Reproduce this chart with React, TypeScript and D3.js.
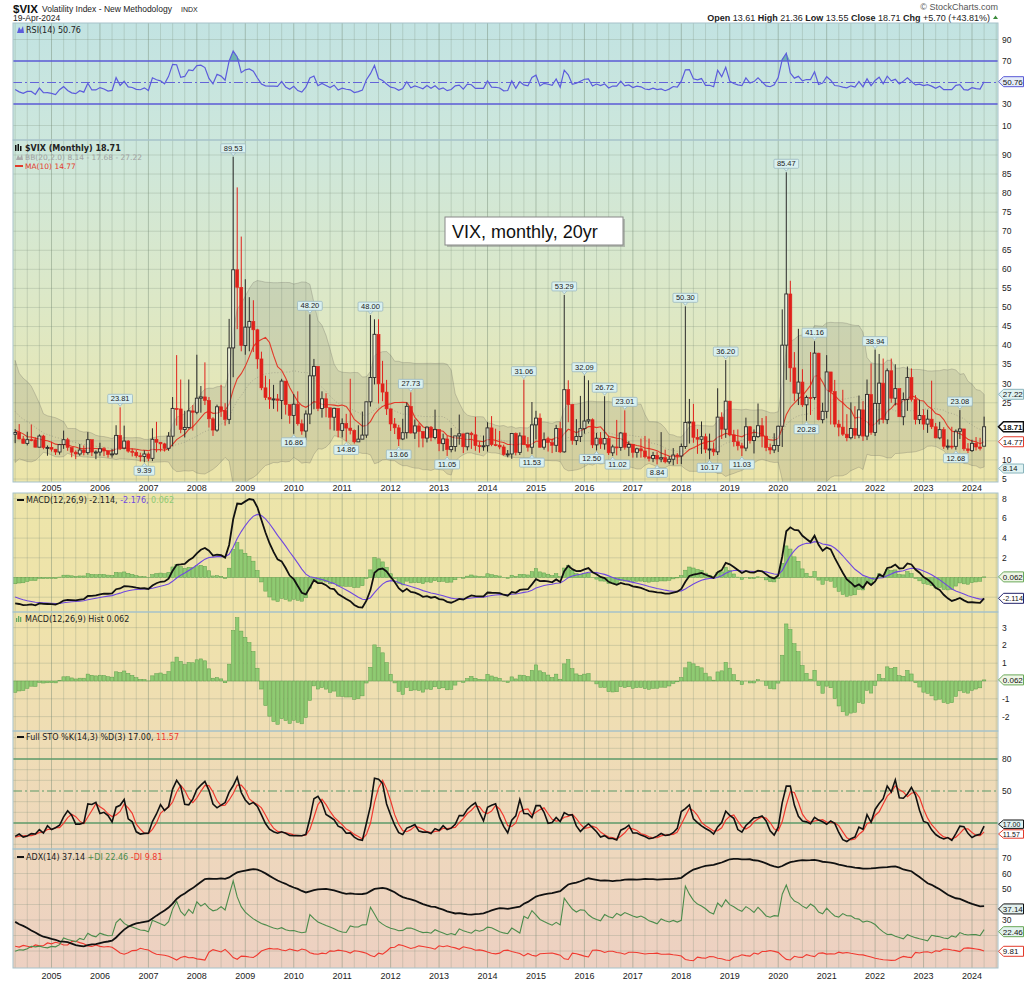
import React, { useEffect } from 'react';
import * as d3 from 'd3';

// Monthly VIX closes Jan 2000 .. Aug 2002 (only used to warm up RSI / MACD)
const priorCloses: number[] = [
  24.95, 23.37, 24.11, 26.20, 23.65, 19.74, 20.74, 17.61, 20.57, 25.04, 29.68, 26.85,
  23.72, 28.41, 31.93, 24.84, 21.62, 19.06, 23.37, 24.92, 31.93, 33.56, 23.84, 23.80,
  21.09, 21.59, 17.40, 21.91, 19.98, 25.40, 32.03, 32.64,
];

// Monthly VIX, Sep 2002 .. Apr 2024 (first 19 months are warm-up for indicators, chart starts Apr 2004)
const closes: number[] = [
  39.69, 31.14, 27.50, 28.62,
  31.17, 29.63, 29.15, 21.21, 19.47, 19.52, 19.49, 19.50, 22.72, 16.10, 16.32, 18.31,
  16.63, 14.55, 16.74, 17.19, 15.50, 14.34, 15.32, 15.29, 13.34, 16.27, 13.24, 13.29,
  12.82, 12.08, 14.02, 15.31, 13.29, 12.04, 11.57, 12.60, 11.92, 15.32, 12.06, 12.07,
  12.95, 12.34, 11.39, 11.59, 16.44, 13.08, 14.95, 12.31, 11.98, 11.10, 10.91, 11.56,
  10.42, 15.42, 14.64, 14.22, 13.05, 16.23, 23.52, 23.38, 18.00, 18.53, 22.87, 22.50,
  26.20, 26.54, 25.61, 20.79, 17.83, 23.95, 22.94, 20.65, 39.39, 59.89, 55.28, 40.00,
  44.84, 46.35, 44.14, 36.50, 28.92, 26.35, 25.92, 26.01, 25.61, 30.69, 24.51, 21.68,
  24.62, 19.50, 17.59, 22.05, 32.07, 34.54, 23.50, 26.05, 23.70, 21.20, 23.54, 17.75,
  19.53, 18.35, 17.74, 14.75, 15.45, 16.52, 25.25, 31.62, 42.96, 29.96, 27.80, 23.40,
  19.44, 18.43, 15.50, 17.15, 24.06, 17.08, 18.93, 17.47, 15.73, 18.60, 15.87, 18.02,
  14.28, 15.51, 12.70, 13.52, 16.30, 16.86, 13.45, 17.01, 16.60, 13.75, 13.70, 13.72,
  18.41, 14.00, 13.88, 13.41, 11.40, 11.57, 16.95, 11.98, 16.31, 14.03, 13.33, 19.20,
  20.97, 13.34, 15.29, 14.55, 13.84, 18.23, 12.12, 28.43, 24.50, 15.07, 16.13, 18.21,
  20.20, 20.55, 13.95, 15.70, 14.19, 15.63, 11.87, 13.42, 13.29, 17.06, 13.33, 14.04,
  11.99, 12.92, 12.37, 10.82, 10.41, 11.18, 10.26, 10.59, 9.51, 10.18, 11.28, 11.04,
  13.54, 19.85, 19.97, 15.93, 15.43, 16.09, 12.83, 12.86, 12.12, 21.23, 18.07, 25.42,
  16.57, 14.78, 13.71, 13.12, 18.71, 15.08, 16.12, 18.98, 16.24, 13.22, 12.62, 13.78,
  18.84, 40.11, 53.54, 34.15, 27.51, 30.43, 24.46, 26.41, 26.37, 38.02, 20.57, 22.75,
  33.09, 27.95, 19.40, 18.61, 16.76, 15.83, 18.24, 16.48, 23.14, 16.26, 27.19, 17.22,
  24.83, 30.15, 20.56, 33.40, 26.19, 28.71, 21.33, 25.87, 31.62, 25.88, 20.58, 21.67,
  19.40, 20.70, 18.70, 15.78, 17.94, 13.59, 13.63, 13.57, 17.52, 18.14, 12.92, 12.45,
  14.35, 13.40, 13.01, 18.71,
];

const highs: number[] = [
  45.1, 45.2, 33.8, 32.4,
  35.2, 36.6, 39.4, 30.0, 23.0, 23.1, 22.5, 23.2, 24.3, 22.8, 21.4, 19.6,
  18.3, 18.0, 21.6, 18.1, 19.4, 16.3, 17.4, 19.3, 15.9, 16.7, 16.6, 13.8,
  14.8, 12.9, 14.2, 17.7, 15.8, 12.9, 12.5, 14.2, 13.8, 17.3, 15.1, 12.5,
  14.5, 13.4, 12.4, 12.9, 19.1, 23.81, 19.0, 15.2, 13.0, 12.6, 11.9, 12.5,
  12.0, 18.3, 20.0, 14.7, 14.5, 17.3, 26.5, 37.5, 31.1, 22.9, 31.1, 24.4,
  37.6, 29.4, 35.6, 26.5, 21.2, 24.5, 29.7, 24.9, 47.0, 89.53, 81.5, 68.6,
  57.4, 52.7, 51.9, 44.4, 38.4, 32.1, 31.2, 29.7, 27.3, 31.3, 30.3, 24.5,
  27.3, 28.0, 20.6, 23.0, 48.20, 36.5, 34.3, 28.0, 27.5, 23.5, 23.7, 23.3,
  20.9, 22.1, 31.3, 18.0, 19.1, 22.7, 25.3, 48.00, 46.9, 46.9, 36.0, 31.0,
  23.5, 21.0, 19.2, 20.8, 25.1, 27.73, 20.6, 19.6, 17.6, 18.8, 18.9, 23.2,
  18.0, 16.9, 16.3, 18.4, 16.3, 21.9, 16.6, 17.1, 17.4, 21.3, 14.8, 16.4,
  19.9, 21.5, 18.2, 17.6, 14.0, 12.6, 17.0, 17.2, 17.2, 31.06, 16.0, 25.2,
  22.9, 22.2, 17.2, 16.1, 15.6, 19.2, 20.0, 53.29, 30.9, 24.7, 20.7, 26.8,
  32.09, 30.9, 20.9, 17.1, 17.3, 26.72, 16.4, 14.0, 20.5, 17.3, 23.01, 14.9,
  14.2, 13.2, 15.6, 16.3, 15.6, 12.1, 12.2, 17.3, 12.7, 11.0, 13.1, 11.8,
  14.3, 50.30, 26.0, 24.7, 18.1, 20.1, 16.9, 16.9, 14.6, 28.8, 22.5, 36.20,
  25.5, 17.9, 18.0, 14.5, 21.1, 18.9, 18.0, 24.8, 21.0, 21.5, 14.3, 17.0,
  19.0, 49.5, 85.47, 57.0, 38.3, 44.4, 33.8, 26.9, 38.3, 41.16, 38.1, 25.0,
  37.5, 31.2, 31.0, 20.5, 28.4, 22.0, 25.1, 24.1, 26.9, 25.4, 31.1, 35.3,
  38.94, 37.8, 36.6, 34.0, 36.6, 35.1, 28.6, 27.7, 34.5, 34.0, 27.0, 25.8,
  23.3, 23.2, 30.8, 19.7, 20.0, 18.6, 15.4, 18.7, 18.0, 23.08, 18.0, 14.4,
  15.3, 16.0, 15.8, 21.36,
];

const lows: number[] = [
  30.4, 28.9, 25.4, 24.5,
  24.0, 28.9, 26.7, 20.9, 18.8, 18.3, 18.6, 18.0, 17.9, 15.8, 15.6, 15.6,
  14.9, 14.3, 14.3, 14.4, 15.4, 14.2, 13.8, 14.9, 13.3, 13.7, 12.8, 11.1,
  12.2, 11.3, 11.4, 12.9, 12.4, 10.7, 10.2, 11.1, 11.2, 11.4, 11.0, 10.2,
  11.1, 11.0, 10.6, 10.6, 11.3, 12.6, 12.8, 11.9, 10.9, 10.6, 9.6, 9.39,
  9.7, 9.7, 12.0, 12.2, 12.2, 12.4, 13.6, 19.0, 17.0, 15.9, 18.2, 17.7,
  22.0, 22.4, 24.4, 18.5, 16.3, 17.4, 21.3, 19.0, 19.4, 31.7, 44.3, 38.5,
  37.6, 38.5, 38.3, 33.9, 28.3, 25.7, 23.4, 23.4, 22.7, 20.7, 21.9, 19.5,
  16.86, 19.0, 16.6, 15.2, 19.4, 23.3, 22.8, 21.1, 21.2, 18.0, 17.7, 15.9,
  15.9, 14.86, 16.7, 14.3, 14.9, 15.8, 15.8, 24.0, 29.8, 24.8, 25.4, 21.8,
  17.6, 16.8, 13.66, 15.2, 15.6, 16.9, 15.5, 13.3, 13.3, 14.6, 14.9, 15.4,
  12.3, 12.3, 11.05, 12.0, 12.2, 14.0, 11.8, 12.5, 12.9, 12.4, 11.9, 12.4,
  12.2, 13.6, 13.6, 12.8, 11.1, 10.7, 10.3, 11.2, 11.3, 13.9, 12.2, 11.53,
  15.4, 13.2, 12.7, 12.2, 11.8, 12.1, 11.8, 11.9, 19.9, 14.0, 13.9, 14.7,
  16.9, 19.5, 13.1, 12.50, 12.9, 12.7, 11.3, 11.02, 11.2, 12.4, 12.7, 11.0,
  10.6, 10.6, 10.6, 10.4, 9.6, 9.4, 8.84, 9.4, 9.1, 8.9, 8.6, 8.9,
  8.9, 12.9, 14.3, 14.5, 11.6, 11.6, 11.8, 10.17, 11.1, 11.3, 15.5, 15.8,
  16.2, 13.5, 12.5, 11.03, 12.3, 14.3, 11.7, 15.8, 13.3, 12.3, 11.5, 11.8,
  12.1, 13.4, 31.0, 30.5, 25.4, 24.4, 23.9, 20.28, 21.8, 25.8, 20.4, 19.6,
  20.9, 19.3, 18.6, 16.2, 16.3, 14.9, 15.4, 15.5, 15.7, 15.0, 15.2, 16.6,
  16.3, 19.3, 19.6, 19.4, 25.0, 24.3, 21.3, 19.1, 22.9, 25.3, 19.3, 19.4,
  17.9, 17.1, 18.1, 15.7, 15.4, 12.9, 12.7, 12.8, 12.68, 15.5, 12.4, 11.8,
  12.1, 12.5, 12.5, 13.55,
];

const lastOpen = 13.61;

// Labeled highs / lows: [year, month, value]
const highLabels: [number, number, number][] = [
  [2006, 6, 23.81], [2008, 10, 89.53], [2010, 5, 48.20], [2011, 8, 48.00], [2012, 6, 27.73],
  [2014, 10, 31.06], [2015, 8, 53.29], [2016, 1, 32.09], [2016, 6, 26.72], [2016, 11, 23.01],
  [2018, 2, 50.30], [2018, 12, 36.20], [2020, 3, 85.47], [2020, 10, 41.16], [2022, 1, 38.94],
  [2023, 10, 23.08],
];
const lowLabels: [number, number, number][] = [
  [2006, 12, 9.39], [2010, 1, 16.86], [2011, 2, 14.86], [2012, 3, 13.66], [2013, 3, 11.05],
  [2014, 12, 11.53], [2016, 4, 12.50], [2016, 8, 11.02], [2017, 7, 8.84], [2018, 8, 10.17],
  [2019, 4, 11.03], [2020, 8, 20.28], [2023, 9, 12.68],
];

const yearTicks = d3.range(2005, 2025);
const mainTicks = d3.range(5, 91, 5);
const rsiTicks = [90, 70, 30, 10];
const macdTicks = [8, 6, 4, 2];
const histTicks = [3, 2, 1, -1, -2];
const stoTicks = [80, 50];
const adxTicks = [70, 60, 50, 30];

// legend values as printed on the chart
const lastRSI = 50.76;
const lastBB = [8.14, 17.68, 27.22];
const lastMA = 14.77;
const lastMACD = [-2.114, -2.176, 0.062];
const lastSTO = [17.0, 11.57];
const lastADX = [37.14, 22.46, 9.81];

// ---------- derived ----------
const N = closes.length;
const NP = priorCloses.length;
const FIRST = 19;
const idxOf = (y: number, m: number) => (y - 2002) * 12 + (m - 1) - 8;
const opens = closes.map((c, i) => (i === N - 1 ? lastOpen : i === 0 ? c : closes[i - 1]));
const H = highs.map((h, i) => Math.max(h, opens[i], closes[i]));
const L = lows.map((l, i) => Math.min(l, opens[i], closes[i]));

const sma = (a: number[], n: number) =>
  a.map((_, i) => (i < n - 1 ? NaN : (d3.mean(a.slice(i - n + 1, i + 1)) as number)));
const ema = (a: number[], n: number) => {
  const k = 2 / (n + 1);
  let p = a[0];
  return a.map((v, i) => (p = i === 0 ? v : v * k + p * (1 - k)));
};
const ma10 = sma(closes, 10);
const mid20 = sma(closes, 20);
const sd20 = closes.map((_, i) => {
  if (i < 19) return NaN;
  const s = closes.slice(i - 19, i + 1);
  const m = d3.mean(s) as number;
  return Math.sqrt(d3.mean(s.map((v) => (v - m) * (v - m))) as number);
});
const bbU = mid20.map((m, i) => m + 2 * sd20[i]);
const bbL = mid20.map((m, i) => m - 2 * sd20[i]);

const allC = [...priorCloses, ...closes];
const e12 = ema(allC, 12), e26 = ema(allC, 26);
const macdAll = e12.map((v, i) => v - e26[i]);
const signalAll = ema(macdAll, 9);
const macd = macdAll.slice(NP);
const signal = signalAll.slice(NP);
const hist = macd.map((v, i) => v - signal[i]);

const rsiAll: number[] = new Array(allC.length).fill(NaN);
{
  let ag = 0, al = 0;
  for (let i = 1; i <= 14; i++) { const d = allC[i] - allC[i - 1]; if (d > 0) ag += d; else al -= d; }
  ag /= 14; al /= 14; rsiAll[14] = 100 - 100 / (1 + ag / al);
  for (let i = 15; i < allC.length; i++) {
    const d = allC[i] - allC[i - 1];
    ag = (ag * 13 + Math.max(d, 0)) / 14; al = (al * 13 + Math.max(-d, 0)) / 14;
    rsiAll[i] = 100 - 100 / (1 + ag / al);
  }
}
const rsi = rsiAll.slice(NP);

const fastK = closes.map((c, i) => {
  if (i < 13) return NaN;
  const hh = d3.max(H.slice(i - 13, i + 1)) as number, ll = d3.min(L.slice(i - 13, i + 1)) as number;
  return ((c - ll) / (hh - ll)) * 100;
});
const fullK = sma(fastK, 3);
const fullD = sma(fullK, 3);

const pdi: number[] = new Array(N).fill(NaN), mdi: number[] = new Array(N).fill(NaN), adx: number[] = new Array(N).fill(NaN);
{
  const tr = [0], pdm = [0], mdm = [0];
  for (let i = 1; i < N; i++) {
    tr.push(Math.max(H[i] - L[i], Math.abs(H[i] - closes[i - 1]), Math.abs(L[i] - closes[i - 1])));
    const up = H[i] - H[i - 1], dn = L[i - 1] - L[i];
    pdm.push(up > dn && up > 0 ? up : 0);
    mdm.push(dn > up && dn > 0 ? dn : 0);
  }
  let sT = 0, sP = 0, sM = 0;
  for (let i = 1; i <= 14; i++) { sT += tr[i]; sP += pdm[i]; sM += mdm[i]; }
  let a = NaN;
  for (let i = 14; i < N; i++) {
    if (i > 14) { sT = sT - sT / 14 + tr[i]; sP = sP - sP / 14 + pdm[i]; sM = sM - sM / 14 + mdm[i]; }
    pdi[i] = (100 * sP) / sT; mdi[i] = (100 * sM) / sT;
    const dx = (100 * Math.abs(pdi[i] - mdi[i])) / (pdi[i] + mdi[i]);
    a = i === 14 ? dx : (a * 13 + dx) / 14;
    adx[i] = a;
  }
}

// ---------- layout ----------
const PL = 13, PR = 998;
const P = { rsi: [23, 140], main: [140, 482], macd: [493, 612], hist: [612, 731], sto: [731, 849], adx: [849, 968] } as Record<string, [number, number]>;
const x = d3.scaleLinear().domain([idxOf(2005, 1), idxOf(2024, 1)]).range([51.5, 972]);
const yMain = d3.scaleLinear().domain([5, 90]).range([479, 155]);
const yRsi = d3.scaleLinear().domain([30, 70]).range([104, 61]);
const yMacd = d3.scaleLinear().domain([-2, 8]).range([597.2, 498.7]);
const yHist = d3.scaleLinear().domain([-2, 3]).range([716.6, 627.6]);
const ySto = d3.scaleLinear().domain([20, 80]).range([823, 759]);
const yAdx = d3.scaleLinear().domain([0, 70]).range([966.5, 858]);

const idxs = d3.range(FIRST, N);
const mkLine = (vals: number[], y: d3.ScaleLinear<number, number>) =>
  d3.line<number>().defined((i) => isFinite(vals[i])).x((i) => x(i)).y((i) => y(vals[i]))(idxs) || '';

const LEG = 'DejaVu Sans, Verdana, sans-serif';
const SANS = 'Liberation Sans, Arial, sans-serif';
const fmt2 = d3.format('.2f');

function Tag({ y, text, stroke, fill = '#fff', color = '#111', bold = false, fs = 8, h = 5 }: any) {
  const x0 = 998.5, w = 25;
  return (
    <g>
      <path d={`M${x0},${y} L${x0 + 5},${y - h} L${x0 + w},${y - h} L${x0 + w},${y + h} L${x0 + 5},${y + h} Z`}
        fill={fill} stroke={stroke} strokeWidth={bold ? 1.6 : 1} />
      <text x={x0 + 4.3} y={y + fs * 0.36} fontSize={fs} fontFamily={SANS} fill={color} fontWeight={bold ? 'bold' : 'normal'}>{text}</text>
    </g>
  );
}

type Lab = { cx: number; bx: number; w: number; by: number; yv: number; hi: boolean; t: string };

export default function App() {
  useEffect(() => { document.body.style.margin = '0'; }, []);
  const quarters = d3.range(FIRST, 263).filter((i) => (i + 8) % 3 === 0);
  const panelKeys = Object.keys(P);
  const hGrid: Record<string, { vals: number[]; y: any }> = {
    rsi: { vals: [90, 10], y: yRsi },
    main: { vals: mainTicks, y: yMain },
    macd: { vals: [8, 6, 4, 2, 0, -2], y: yMacd },
    hist: { vals: [3, 2, 1, 0, -1, -2], y: yHist },
    sto: { vals: [100, 90, 70, 60, 40, 30, 10, 0], y: ySto },
    adx: { vals: [70, 60, 50, 40, 30, 20, 10], y: yAdx },
  };
  const bbArea = d3.area<number>().defined((i) => isFinite(bbU[i])).x((i) => x(i)).y0((i) => yMain(bbL[i])).y1((i) => yMain(bbU[i]))(idxs) || '';
  const rsiArea = d3.area<number>().x((i) => x(i)).y0(yRsi(70)).y1((i) => yRsi(Math.max(70, rsi[i])))(idxs) || '';
  const cw = 3;
  const mainTagVals = [lastBB[2], closes[N - 1], lastMA, lastBB[0]];
  const mainTickShown = mainTicks.filter((v) => mainTagVals.every((t) => Math.abs(yMain(v) - yMain(t)) > 7));

  // candle labels with simple horizontal de-overlap
  const LH = 9;
  const labs: Lab[] = [
    ...highLabels.map(([yy, m, v]) => ({ i: idxOf(yy, m), v, hi: true })),
    ...lowLabels.map(([yy, m, v]) => ({ i: idxOf(yy, m), v, hi: false })),
  ].map(({ i, v, hi }) => {
    const cx = x(i), t = fmt2(v), w = t.length * 4.15 + 4, yv = yMain(v);
    return { cx, bx: cx - w / 2, w, by: hi ? yv - LH - 4 : yv + 4, yv, hi, t };
  }).sort((a, b) => a.cx - b.cx);
  for (let k = 1; k < labs.length; k++) {
    for (let j = 0; j < k; j++) {
      const a = labs[j], b = labs[k];
      const ox = a.bx + a.w + 1 - b.bx, oy = Math.min(a.by + LH, b.by + LH) - Math.max(a.by, b.by);
      if (ox > 0 && oy > -1) { a.bx -= ox / 2; b.bx += ox / 2; }
    }
  }

  return (
    <svg width={1024} height={983} style={{ position: 'absolute', left: 0, top: 0, background: '#fff', display: 'block' }}>
      <defs>
        <linearGradient id="bg" x1="0" y1={P.rsi[0]} x2="0" y2={P.adx[1]} gradientUnits="userSpaceOnUse">
          <stop offset="0" stopColor="#c2e3e2" />
          <stop offset="0.13" stopColor="#cde7dc" />
          <stop offset="0.3" stopColor="#dde8c6" />
          <stop offset="0.48" stopColor="#ece5aa" />
          <stop offset="0.62" stopColor="#efe3aa" />
          <stop offset="0.75" stopColor="#efddb4" />
          <stop offset="0.88" stopColor="#eed7bd" />
          <stop offset="1" stopColor="#edd0c2" />
        </linearGradient>
        {panelKeys.map((k) => (
          <clipPath id={`c-${k}`} key={k}><rect x={PL} y={P[k][0]} width={PR - PL} height={P[k][1] - P[k][0]} /></clipPath>
        ))}
      </defs>

      {/* header */}
      <text x={13} y={13} fontFamily={SANS} fontSize={11.5} fontWeight="bold" fill="#111">$VIX</text>
      <text x={42} y={12} fontFamily={SANS} fontSize={8.5} fill="#222">Volatility Index - New Methodology</text>
      <text x={181} y={12} fontFamily={SANS} fontSize={7} fill="#222">INDX</text>
      <text x={13} y={21} fontFamily={SANS} fontSize={8.5} fill="#222">19-Apr-2024</text>
      <text x={998} y={10} textAnchor="end" fontFamily={SANS} fontSize={9} fill="#555">© StockCharts.com</text>
      <text x={990} y={21} textAnchor="end" fontFamily={SANS} fontSize={9} fill="#222">
        <tspan fontWeight="bold">Open</tspan> 13.61 <tspan fontWeight="bold">High</tspan> 21.36 <tspan fontWeight="bold">Low</tspan> 13.55 <tspan fontWeight="bold">Close</tspan> 18.71 <tspan fontWeight="bold">Chg</tspan> +5.70 (+43.81%)
      </text>
      <path d="M993,19 L998,19 L995.5,15.5 Z" fill="#3a8a3a" />

      {/* backgrounds */}
      <rect x={PL} y={P.rsi[0]} width={PR - PL} height={P.adx[1] - P.rsi[0]} fill="url(#bg)" />
      <rect x={PL} y={P.main[1]} width={PR - PL} height={P.macd[0] - P.main[1]} fill="#fff" />

      {/* grids */}
      {panelKeys.map((k) => (
        <g key={'g' + k} clipPath={`url(#c-${k})`}>
          {quarters.map((i) => (
            <line key={i} x1={x(i)} x2={x(i)} y1={P[k][0]} y2={P[k][1]}
              stroke={(i + 8) % 12 === 0 ? 'rgba(110,130,110,0.42)' : 'rgba(120,140,120,0.25)'} strokeWidth={1} />
          ))}
          {hGrid[k].vals.map((v) => (
            <line key={'h' + v} x1={PL} x2={PR} y1={hGrid[k].y(v)} y2={hGrid[k].y(v)} stroke="rgba(120,140,120,0.25)" />
          ))}
        </g>
      ))}

      {/* RSI */}
      <g clipPath="url(#c-rsi)">
        <path d={rsiArea} fill="#5aa6a6" opacity={0.8} />
        <line x1={PL} x2={PR} y1={yRsi(70)} y2={yRsi(70)} stroke="#5a5ad6" strokeWidth={1.3} />
        <line x1={PL} x2={PR} y1={yRsi(30)} y2={yRsi(30)} stroke="#5a5ad6" strokeWidth={1.3} />
        <line x1={PL} x2={PR} y1={yRsi(50)} y2={yRsi(50)} stroke="#6464d8" strokeWidth={1.1} strokeDasharray="9,3,2,3" />
        <path d={mkLine(rsi, yRsi)} fill="none" stroke="#5c5cdc" strokeWidth={1.2} />
      </g>
      <path d="M17,33 L19,27 L21,30 L23,26 L24,33 Z" fill="#5c5cdc" />
      <text x={26} y={33} fontFamily={LEG} fontSize={8} fill="#222">RSI(14) {fmt2(lastRSI)}</text>

      {/* MAIN */}
      <g clipPath="url(#c-main)">
        <path d={bbArea} fill="rgba(105,105,95,0.17)" stroke="rgba(110,110,100,0.3)" strokeWidth={1} />
        <path d={mkLine(mid20, yMain)} fill="none" stroke="rgba(120,120,110,0.45)" strokeDasharray="1,2" />
        <path d={mkLine(ma10, yMain)} fill="none" stroke="#e23a2a" strokeWidth={1.1} />
        {idxs.map((i) => {
          const o = opens[i], c = closes[i];
          const red = c < closes[i - 1];
          const col = red ? '#e0211b' : '#2a2a2a';
          const hollow = c > o;
          const top = yMain(Math.max(o, c)), bot = yMain(Math.min(o, c));
          const cx = x(i);
          return (
            <g key={i}>
              <line x1={cx} x2={cx} y1={yMain(H[i])} y2={top} stroke={col} strokeWidth={1} />
              <line x1={cx} x2={cx} y1={bot} y2={yMain(L[i])} stroke={col} strokeWidth={1} />
              <rect x={cx - cw / 2} y={top} width={cw} height={Math.max(1, bot - top)}
                fill={hollow ? 'rgba(255,255,250,0.45)' : col} stroke={col} strokeWidth={hollow ? 0.9 : 0.6} />
            </g>
          );
        })}
        {labs.map((l, k) => (
          <g key={'lab' + k}>
            <path d={l.hi ? `M${l.cx - 3},${l.by + LH - 0.5} L${l.cx + 3},${l.by + LH - 0.5} L${l.cx},${l.yv - 1} Z` : `M${l.cx - 3},${l.by + 0.5} L${l.cx + 3},${l.by + 0.5} L${l.cx},${l.yv + 1} Z`}
              fill="#d9f0f0" stroke="#9ab8c0" strokeWidth={0.8} />
            <rect x={l.bx} y={l.by} width={l.w} height={LH} fill="#d9f0f0" stroke="#9ab8c0" strokeWidth={0.8} rx={1} />
            <text x={l.bx + l.w / 2} y={l.by + 7} textAnchor="middle" fontSize={7.5} fontFamily={SANS} fill="#222">{l.t}</text>
          </g>
        ))}
      </g>
      <g>
        <rect x={15} y={145} width={1.5} height={6} fill="#111" /><rect x={17.5} y={144} width={1.5} height={7} fill="#111" /><rect x={20} y={146} width={1.5} height={5} fill="#111" />
        <text x={25} y={151} fontFamily={LEG} fontSize={8} fontWeight="bold" fill="#222">$VIX (Monthly) {fmt2(closes[N - 1])}</text>
        <path d="M16,160 L18,155 L20,158 L22,154 L23,160 Z" fill="#aaa" />
        <text x={25} y={160} fontFamily={LEG} fontSize={7.5} fill="#a0a0a0">BB(20,2.0) {lastBB[0]} - {lastBB[1]} - {lastBB[2]}</text>
        <line x1={15} x2={23} y1={166} y2={166} stroke="#e23a2a" strokeWidth={2} />
        <text x={25} y={169} fontFamily={LEG} fontSize={7.5} fill="#e23a2a">MA(10) {lastMA}</text>
      </g>
      <g>
        <rect x={447} y={219} width={178} height={28} fill="#888" opacity={0.5} />
        <rect x={445} y={217} width={178} height={28} fill="#fff" stroke="#888" strokeWidth={1} />
        <text x={452} y={238} fontFamily={SANS} fontSize={18} fill="#111">VIX, monthly, 20yr</text>
      </g>

      {/* MACD */}
      <g clipPath="url(#c-macd)">
        {idxs.map((i) => (
          <rect key={i} x={x(i) - 1.7} y={Math.min(yMacd(0), yMacd(hist[i]))} width={3.4} height={Math.abs(yMacd(hist[i]) - yMacd(0))}
            fill="#8fca72" stroke="#5f9f4c" strokeWidth={0.5} />
        ))}
        <path d={mkLine(signal, yMacd)} fill="none" stroke="#7048e0" strokeWidth={1.1} />
        <path d={mkLine(macd, yMacd)} fill="none" stroke="#111" strokeWidth={1.8} />
      </g>
      <line x1={17} x2={24} y1={500} y2={500} stroke="#111" strokeWidth={2} />
      <text x={26} y={503} fontFamily={LEG} fontSize={8} fill="#222">MACD(12,26,9) {lastMACD[0]},
        <tspan fill="#7048e0"> {lastMACD[1]},</tspan><tspan fill="#8fca72"> {lastMACD[2]}</tspan></text>

      {/* HIST */}
      <g clipPath="url(#c-hist)">
        {idxs.map((i) => (
          <rect key={i} x={x(i) - 1.7} y={Math.min(yHist(0), yHist(hist[i]))} width={3.4} height={Math.abs(yHist(hist[i]) - yHist(0))}
            fill="#8fca72" stroke="#5f9f4c" strokeWidth={0.5} />
        ))}
      </g>
      <rect x={16} y={618} width={1.3} height={4} fill="#6a6" /><rect x={18} y={616} width={1.3} height={6} fill="#6a6" /><rect x={20} y={617} width={1.3} height={5} fill="#6a6" />
      <text x={25} y={622} fontFamily={LEG} fontSize={8} fill="#222">MACD(12,26,9) Hist {lastMACD[2]}</text>

      {/* STO */}
      <g clipPath="url(#c-sto)">
        <line x1={PL} x2={PR} y1={ySto(80)} y2={ySto(80)} stroke="#5c9a68" strokeWidth={1.4} />
        <line x1={PL} x2={PR} y1={ySto(20)} y2={ySto(20)} stroke="#5c9a68" strokeWidth={1.4} />
        <line x1={PL} x2={PR} y1={ySto(50)} y2={ySto(50)} stroke="#5c9a68" strokeWidth={1.2} strokeDasharray="9,3,2,3" />
        <path d={mkLine(fullD, ySto)} fill="none" stroke="#f03a30" strokeWidth={1.2} />
        <path d={mkLine(fullK, ySto)} fill="none" stroke="#111" strokeWidth={1.6} />
      </g>
      <line x1={17} x2={24} y1={737} y2={737} stroke="#111" strokeWidth={2} />
      <text x={26} y={740} fontFamily={LEG} fontSize={8} fill="#222">Full STO %K(14,3) %D(3) {lastSTO[0].toFixed(2)},<tspan fill="#f03a30"> {lastSTO[1]}</tspan></text>

      {/* ADX */}
      <g clipPath="url(#c-adx)">
        <path d={mkLine(mdi, yAdx)} fill="none" stroke="#f03a30" strokeWidth={1.1} />
        <path d={mkLine(pdi, yAdx)} fill="none" stroke="#4c8c4c" strokeWidth={1.1} />
        <path d={mkLine(adx, yAdx)} fill="none" stroke="#111" strokeWidth={1.8} />
      </g>
      <line x1={17} x2={24} y1={857} y2={857} stroke="#111" strokeWidth={2} />
      <text x={26} y={860} fontFamily={LEG} fontSize={8} fill="#222">ADX(14) {lastADX[0]}<tspan fill="#4c8c4c"> +DI {lastADX[1]}</tspan><tspan fill="#f03a30"> -DI {lastADX[2]}</tspan></text>

      {/* panel borders */}
      {panelKeys.map((k) => (
        <rect key={'b' + k} x={PL} y={P[k][0]} width={PR - PL} height={P[k][1] - P[k][0]} fill="none" stroke="#a6c2ca" strokeWidth={1} />
      ))}

      {/* x axis labels */}
      {yearTicks.map((yy) => (
        <g key={yy}>
          <text x={x(idxOf(yy, 1))} y={491} textAnchor="middle" fontFamily={SANS} fontSize={9} fill="#222">{yy}</text>
          <text x={x(idxOf(yy, 1))} y={979} textAnchor="middle" fontFamily={SANS} fontSize={9} fill="#222">{yy}</text>
        </g>
      ))}

      {/* right axes */}
      {rsiTicks.map((v) => <text key={'r' + v} x={1002} y={yRsi(v) + 3} fontFamily={SANS} fontSize={8.5} fill="#222">{v}</text>)}
      {mainTickShown.map((v) => <text key={'m' + v} x={1002} y={yMain(v) + 2.8} fontFamily={SANS} fontSize={8.5} fill="#222">{v}</text>)}
      {macdTicks.map((v) => <text key={'c' + v} x={1002} y={yMacd(v) + 3} fontFamily={SANS} fontSize={8.5} fill="#222">{v}</text>)}
      {histTicks.map((v) => <text key={'h' + v} x={1002} y={yHist(v) + 3} fontFamily={SANS} fontSize={8.5} fill="#222">{v}</text>)}
      {stoTicks.map((v) => <text key={'s' + v} x={1002} y={ySto(v) + 3} fontFamily={SANS} fontSize={8.5} fill="#222">{v}</text>)}
      {adxTicks.map((v) => <text key={'a' + v} x={1002} y={yAdx(v) + 3} fontFamily={SANS} fontSize={8.5} fill="#222">{v}</text>)}

      {/* value tags */}
      <Tag y={yRsi(lastRSI)} text={fmt2(lastRSI)} stroke="#5a5ad6" fill="#e4ecf8" />
      <Tag y={yMain(lastBB[2])} text={fmt2(lastBB[2])} stroke="#8ab4bc" fill="#dff2f2" />
      <Tag y={yMain(lastBB[0]) + 1.5} text={fmt2(lastBB[0])} stroke="#8ab4bc" fill="#dff2f2" fs={7.5} h={4.5} />
      <Tag y={yMain(lastMA)} text={fmt2(lastMA)} stroke="#e23a2a" fill="#fff" />
      <Tag y={yMain(closes[N - 1])} text={fmt2(closes[N - 1])} stroke="#111" fill="#fff" bold fs={7.8} />
      <Tag y={yMacd(lastMACD[2])} text={String(lastMACD[2])} stroke="#6aa858" fill="#eef6e6" />
      <Tag y={yMacd(lastMACD[0])} text={String(lastMACD[0])} stroke="#22226a" fill="#fff" fs={7.3} />
      <Tag y={yHist(lastMACD[2])} text={String(lastMACD[2])} stroke="#6aa858" fill="#eef6e6" />
      <Tag y={ySto(lastSTO[1]) + 2} text={fmt2(lastSTO[1])} stroke="#e23a2a" fill="#fff" fs={7} h={4.2} />
      <Tag y={ySto(lastSTO[0]) - 2} text={fmt2(lastSTO[0])} stroke="#111" fill="#dff2f2" fs={7} h={4.2} />
      <Tag y={yAdx(lastADX[0])} text={fmt2(lastADX[0])} stroke="#111" fill="#e2f0ee" />
      <Tag y={yAdx(lastADX[1])} text={fmt2(lastADX[1])} stroke="#6aa858" fill="#e2f2ee" />
      <Tag y={yAdx(lastADX[2])} text={fmt2(lastADX[2])} stroke="#e23a2a" fill="#fff" />
    </svg>
  );
}
